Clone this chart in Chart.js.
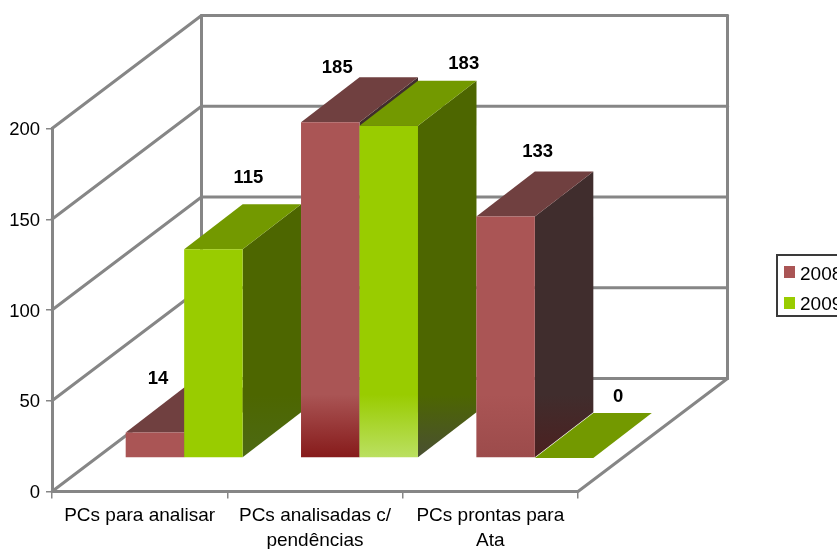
<!DOCTYPE html>
<html>
<head>
<meta charset="utf-8">
<style>
  html, body { margin: 0; padding: 0; background: #fff; overflow: hidden; }
  canvas { display: block; }
</style>
<script src="https://cdn.jsdelivr.net/npm/chart.js@4/dist/chart.umd.min.js"></script>
</head>
<body>
<canvas id="chart" width="837" height="549"></canvas>
<script>
// Chart data
const categories = [['PCs para analisar'], ['PCs analisadas c/', 'pendências'], ['PCs prontas para', 'Ata']];
const seriesNames = ['2008', '2009'];
const values2008 = [14, 185, 133];
const values2009 = [115, 183, 0];
const yTicks = [0, 50, 100, 150, 200];

// Face colours for each series
const frontColors = ['#AA5555', '#99CC00'];
const topColors = ['#704040', '#739900'];
const sideColors = ['#402D2D', '#4D6600'];
// Colour reached at the foot of the bars, per category
const frontFeet = [['#AA5555', '#861A1A', '#9C4B4B'], ['#99CC00', '#BBE062', '#99CC00']];
const sideFeet = [['#402D2D', '#402D2D', '#4C2020'], ['#4D6A14', '#494F33', '#4D6600']];
const fadeStartValue = 35;

// 3D projection
const wallDepth = { x: 149.5, y: -113 };
const barShift = { x: 44.5, y: -33.5 };
const barDepth = { x: 58.5, y: -45 };
const wallColor = '#868686';
const fontFamily = '"Liberation Sans", Arial, sans-serif';

// Nudges of the value captions from the top centre of each bar's front face
const captionNudges = [[[3, -54], [7, -54], [32, -65]], [[35, -71], [75, -62], [54, -61]]];

function fade(chart, fromColor, toColor, shiftY) {
  const y = chart.scales.y;
  const a = y ? y.getPixelForValue(fadeStartValue) : NaN;
  const b = y ? y.getPixelForValue(0) : NaN;
  if (!isFinite(a) || !isFinite(b) || a === b) return fromColor;
  const g = chart.ctx.createLinearGradient(0, a + shiftY, 0, b + shiftY);
  g.addColorStop(0, fromColor);
  g.addColorStop(1, toColor);
  return g;
}

function polygon(ctx, pts, fill) {
  ctx.beginPath();
  pts.forEach((p, i) => i ? ctx.lineTo(p[0], p[1]) : ctx.moveTo(p[0], p[1]));
  ctx.closePath();
  ctx.fillStyle = fill;
  ctx.fill();
}

const box3d = {
  id: 'box3d',
  // The value-axis numbers sit slightly below their tick marks
  beforeDraw(chart) {
    const s = chart.scales.y;
    if (s.$lowered) return;
    const drawLabels = s.drawLabels;
    s.drawLabels = function (area) {
      chart.ctx.save();
      chart.ctx.translate(0, 1.5);
      drawLabels.call(s, area);
      chart.ctx.restore();
    };
    s.$lowered = true;
  },
  // Back wall, side wall and floor outline, projected from the axes
  beforeDatasetsDraw(chart) {
    const { ctx, scales: { x, y } } = chart;
    const l = x.left, r = x.right, dx = wallDepth.x, dy = wallDepth.y;
    ctx.save();
    ctx.strokeStyle = wallColor;
    ctx.lineWidth = 3;
    ctx.lineCap = 'round';
    const line = (a, b, c, d) => { ctx.beginPath(); ctx.moveTo(a, b); ctx.lineTo(c, d); ctx.stroke(); };
    yTicks.forEach(t => {
      const py = y.getPixelForValue(t);
      line(l, py, l + dx, py + dy);
      line(l + dx, py + dy, r + dx, py + dy);
    });
    const y0 = y.getPixelForValue(0), yMax = y.getPixelForValue(200);
    line(l + dx, y0 + dy, l + dx, yMax + dy);
    line(r + dx, y0 + dy, r + dx, yMax + dy);
    line(r, y0, r + dx, y0 + dy);
    ctx.restore();

    // Bars are painted left to right so nearer faces cover the sides of earlier ones
    categories.forEach((_, i) => {
      chart.data.datasets.forEach((ds, d) => {
        const el = chart.getDatasetMeta(d).data[i];
        const half = el.width / 2;
        const x0 = el.x - half + barShift.x, x1 = el.x + half + barShift.x;
        const yt = el.y + barShift.y, yb = el.base + barShift.y;
        const bx = barDepth.x, by = barDepth.y;
        if (yb - yt > 0.5) {
          polygon(ctx, [[x1, yt], [x1 + bx, yt + by], [x1 + bx, yb + by], [x1, yb]],
            fade(chart, sideColors[d], sideFeet[d][i], barShift.y));
        }
        polygon(ctx, [[x0, yt], [x1, yt], [x1 + bx, yt + by], [x0 + bx, yt + by]], topColors[d]);
        ctx.save();
        ctx.translate(barShift.x, barShift.y);
        el.draw(ctx);
        ctx.restore();
      });
    });
    return false;
  },
  afterDraw(chart) {
    const { ctx } = chart;
    ctx.save();
    // Value captions
    ctx.font = 'bold 18.5px ' + fontFamily;
    ctx.fillStyle = '#000';
    ctx.textAlign = 'center';
    ctx.textBaseline = 'middle';
    chart.data.datasets.forEach((ds, d) => {
      chart.getDatasetMeta(d).data.forEach((el, i) => {
        const n = captionNudges[d][i];
        ctx.fillText(String(ds.data[i]), el.x + barShift.x + n[0], el.y + barShift.y + n[1]);
      });
    });
    // Series key, running off the right edge of the page
    ctx.strokeStyle = '#3A3A3A';
    ctx.lineWidth = 2;
    ctx.strokeRect(777, 255, 90, 61);
    ctx.font = '19px ' + fontFamily;
    ctx.textAlign = 'left';
    ctx.textBaseline = 'alphabetic';
    seriesNames.forEach((name, d) => {
      ctx.fillStyle = frontColors[d];
      ctx.fillRect(784, 266 + d * 31, 11, 12);
      ctx.fillStyle = '#000';
      ctx.fillText(name, 800, 280 + d * 29.5);
    });
    ctx.restore();
  }
};

function barFill(d) {
  return c => {
    if (c.type !== 'data') return frontColors[d];
    return fade(c.chart, frontColors[d], frontFeet[d][c.dataIndex], 0);
  };
}

new Chart(document.getElementById('chart'), {
  type: 'bar',
  data: {
    labels: categories,
    datasets: [
      { label: seriesNames[0], data: values2008, backgroundColor: barFill(0) },
      { label: seriesNames[1], data: values2009, backgroundColor: barFill(1) }
    ]
  },
  options: {
    responsive: false,
    animation: false,
    events: [],
    layout: { padding: { top: 128.5, right: 259, left: 0, bottom: 0 } },
    datasets: { bar: { barPercentage: 1, categoryPercentage: 0.667, borderWidth: 0 } },
    plugins: { legend: { display: false }, tooltip: { enabled: false }, title: { display: false } },
    scales: {
      x: {
        grid: { drawOnChartArea: false, drawTicks: true, tickLength: 7, color: wallColor, lineWidth: 1.5 },
        border: { display: true, color: wallColor, width: 3 },
        ticks: { color: '#000', font: { family: fontFamily, size: 19, lineHeight: 1.32 }, maxRotation: 0, minRotation: 0, autoSkip: false, padding: 5 },
        afterFit(s) { s.height = 57.5; }
      },
      y: {
        min: 0,
        max: 200,
        afterBuildTicks(s) { s.ticks = yTicks.map(v => ({ value: v })); },
        grid: { drawOnChartArea: false, drawTicks: true, tickLength: 6, color: wallColor, lineWidth: 1.5 },
        border: { display: true, color: wallColor, width: 3 },
        ticks: { color: '#000', font: { family: fontFamily, size: 18.5 }, padding: 6 },
        afterFit(s) { s.width = 52; }
      }
    }
  },
  plugins: [box3d]
});
</script>
</body>
</html>
